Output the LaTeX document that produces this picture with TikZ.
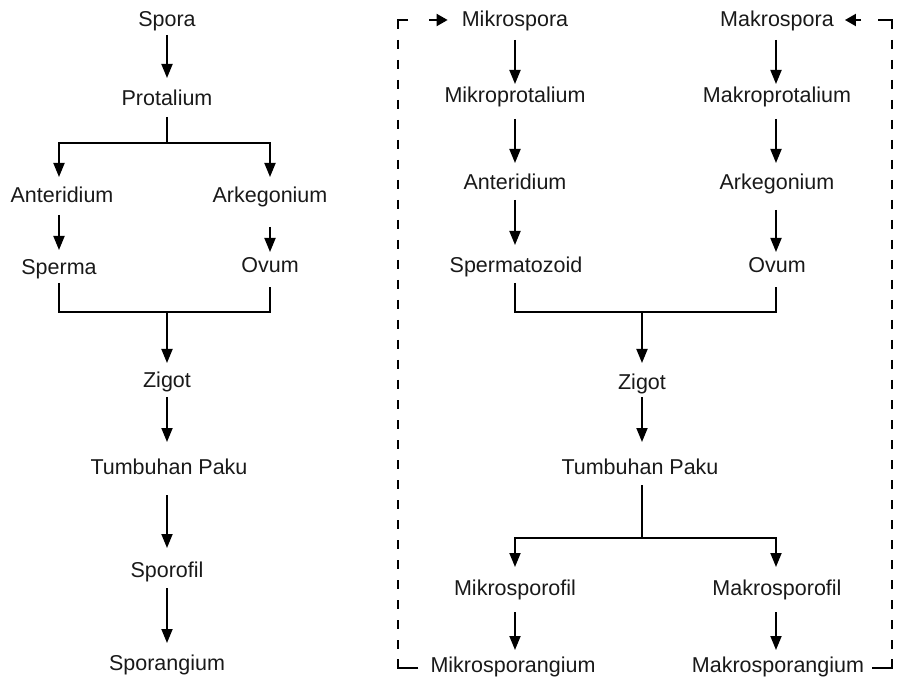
\documentclass[tikz,border=0pt]{standalone}
\usepackage{fontspec}
\setmainfont{Liberation Sans}
\usetikzlibrary{arrows.meta}
\begin{document}
\begin{tikzpicture}[x=1pt,y=-1pt,
  lbl/.style={font=\fontsize{21.5}{25}\selectfont, anchor=base, inner sep=0pt, text=black!90},
  arr/.style={line width=1.8pt, -{Triangle[width=11pt,length=14pt]}},
  sarr/.style={line width=2pt, -{Triangle[width=12pt,length=11pt]}},
  ln/.style={line width=1.8pt},
  dashln/.style={line width=1.9pt, dash pattern=on 9pt off 11pt}]
\useasboundingbox (0,0) rectangle (898,679);

% ---------------- left column ----------------
\node[lbl] (spora)  at (167,27)  {Spora};
\node[lbl] (prot)   at (167,106) {Protalium};
\node[lbl] (antL)   at (62,203)  {Anteridium};
\node[lbl] (arkL)   at (270,203) {Arkegonium};
\node[lbl] (sperma) at (59,275)  {Sperma};
\node[lbl] (ovumL)  at (270,273) {Ovum};
\node[lbl] (zigL)   at (167,388) {Zigot};
\node[lbl] (tumbL)  at (169,475) {Tumbuhan Paku};
\node[lbl] (sporof) at (167,577) {Sporofil};
\node[lbl] (sporag) at (167,670) {Sporangium};

\coordinate (lbar1) at (167,143);
\coordinate (lbar2) at (167,312);
\coordinate (lx) at (59,0);
\coordinate (rx) at (270,0);

\draw[arr] ([yshift=-8pt]spora.base) -- ([yshift=28pt]prot.base);
\draw[ln] ([yshift=-11pt]prot.base) -- (lbar1);
\draw[arr] (lbar1) -| ([yshift=26pt]antL.base -| lx);
\draw[arr] (lbar1) -| ([yshift=26pt]arkL.base -| rx);
\draw[arr] ([yshift=-12pt]antL.base -| lx) -- ([yshift=25pt]sperma.base -| lx);
\draw[arr] ([yshift=-24pt]arkL.base -| rx) -- ([yshift=21pt]ovumL.base -| rx);
\draw[ln] ([yshift=-8pt]sperma.base -| lx) |- (lbar2) -| ([yshift=-14pt]ovumL.base -| rx);
\draw[arr] (lbar2) -- ([yshift=25pt]zigL.base);
\draw[arr] ([yshift=-9pt]zigL.base) -- ([yshift=33pt]tumbL.base -| zigL.base);
\draw[arr] ([yshift=-20pt]tumbL.base -| zigL.base) -- ([yshift=29pt]sporof.base);
\draw[arr] ([yshift=-11pt]sporof.base) -- ([yshift=27pt]sporag.base);

% ---------------- right column ----------------
\node[lbl] (mspora) at (515,27)  {Mikrospora};
\node[lbl] (Mspora) at (777,27)  {Makrospora};
\node[lbl] (mprot)  at (515,103) {Mikroprotalium};
\node[lbl] (Mprot)  at (777,103) {Makroprotalium};
\node[lbl] (antR)   at (515,190) {Anteridium};
\node[lbl] (arkR)   at (777,190) {Arkegonium};
\node[lbl] (spz)    at (516,273) {Spermatozoid};
\node[lbl] (ovumR)  at (777,273) {Ovum};
\node[lbl] (zigR)   at (642,389) {Zigot};
\node[lbl] (tumbR)  at (640,475) {Tumbuhan Paku};
\node[lbl] (msf)    at (515,595) {Mikrosporofil};
\node[lbl] (Msf)    at (777,595) {Makrosporofil};
\node[lbl] (mspg)   at (513,672) {Mikrosporangium};
\node[lbl] (Mspg)   at (778,672) {Makrosporangium};

\coordinate (mx) at (515,0);
\coordinate (Mx) at (776,0);
\coordinate (rbar1) at (642,312);
\coordinate (rbar2) at (642,538);

\draw[arr] ([yshift=-13pt]mspora.base -| mx) -- ([yshift=19pt]mprot.base -| mx);
\draw[arr] ([yshift=-13pt]Mspora.base -| Mx) -- ([yshift=19pt]Mprot.base -| Mx);
\draw[arr] ([yshift=-16pt]mprot.base -| mx) -- ([yshift=27pt]antR.base -| mx);
\draw[arr] ([yshift=-16pt]Mprot.base -| Mx) -- ([yshift=27pt]arkR.base -| Mx);
\draw[arr] ([yshift=-10pt]antR.base -| mx) -- ([yshift=28pt]spz.base -| mx);
\draw[arr] ([yshift=-20pt]arkR.base -| Mx) -- ([yshift=21pt]ovumR.base -| Mx);
\draw[ln] ([yshift=-10pt]spz.base -| mx) |- (rbar1) -| ([yshift=-14pt]ovumR.base -| Mx);
\draw[arr] (rbar1) -- ([yshift=26pt]zigR.base -| rbar1);
\draw[arr] ([yshift=-8pt]zigR.base) -- ([yshift=33pt]tumbR.base -| zigR.base);
\draw[ln] ([yshift=-10pt]tumbR.base -| rbar2) -- (rbar2);
\draw[arr] (rbar2) -| ([yshift=28pt]msf.base -| mx);
\draw[arr] (rbar2) -| ([yshift=28pt]Msf.base -| Mx);
\draw[arr] ([yshift=-17pt]msf.base -| mx) -- ([yshift=22pt]mspg.base -| mx);
\draw[arr] ([yshift=-17pt]Msf.base -| Mx) -- ([yshift=22pt]Mspg.base -| Mx);

% ---------------- dashed frame ----------------
\coordinate (cTL) at (398,20);
\coordinate (cBL) at (398,668);
\coordinate (cTR) at (892,20);
\coordinate (cBR) at (892,668);
\coordinate (tlEnd) at (429,20);
\coordinate (trEnd) at (861,20);

\draw[dashln] (cTL) -- (cBL);
\draw[dashln] (cTR) -- (cBR);
\draw[ln] ([xshift=10pt]cTL) -- (cTL) -- ([yshift=-8pt]cTL);
\draw[ln] ([xshift=-14pt]cTR) -- (cTR) -- ([yshift=-8pt]cTR);
\draw[ln] ([xshift=-12pt]mspg.base west |- cBL) -- (cBL) -- ([yshift=9pt]cBL);
\draw[ln] ([xshift=8pt]Mspg.base east |- cBR) -- (cBR) -- ([yshift=9pt]cBR);
\draw[sarr] (tlEnd) -- ([xshift=-14pt]mspora.west |- cTL);
\draw[sarr] (trEnd) -- ([xshift=11pt]Mspora.east |- cTR);
\end{tikzpicture}
\end{document}
